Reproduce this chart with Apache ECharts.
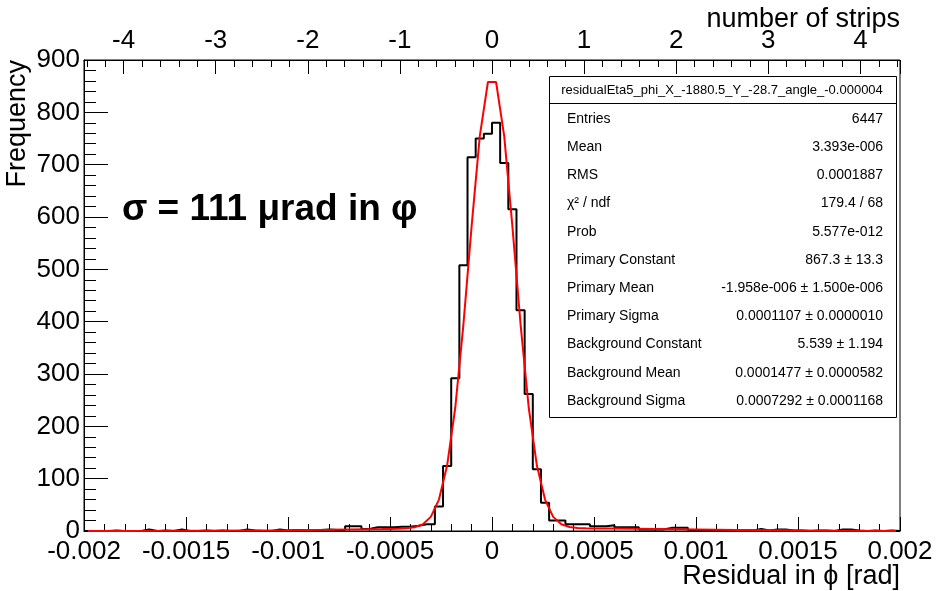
<!DOCTYPE html>
<html>
<head>
<meta charset="utf-8">
<script src="https://cdn.jsdelivr.net/npm/echarts@6/dist/echarts.min.js"></script>
<style>html,body{margin:0;padding:0;background:#fff}#main{width:943px;height:591px}</style>
</head>
<body>
<div id="main"></div>
<script>
// ---- data ----
const histMin = -0.002;
const histMax = 0.002;
const binWidth = 0.00004;
const counts = [
  0,0,0,1,0,0,0,3,0,1,
  0,3,0,0,1,0,1,0,0,3,
  1,0,0,3,1,2,2,2,2,3,
  2,2,9,9,4,7,7,7,8,8,
  10,13,13,47,124,292,508,714,750,759,
  780,703,615,422,262,118,54,20,20,13,
  13,13,9,9,11,7,7,7,3,3,
  3,6,6,6,2,2,2,2,2,1,
  2,1,4,1,3,3,1,1,0,1,
  1,0,3,3,1,0,1,0,1,0
];
const fitX = [-0.00198,-0.0018,-0.0016,-0.0014,-0.0012,-0.001,-0.0008,-0.0006,-0.00054,-0.0005,-0.00046,-0.00042,-0.00038,-0.00034,-0.0003,-0.00026,-0.00022,-0.00018,-0.00014,-0.0001,-0.00006,-0.00002,0.00002,0.00006,0.0001,0.00014,0.00018,0.00022,0.00026,0.0003,0.00034,0.00038,0.00042,0.00046,0.0005,0.0006,0.0008,0.001,0.0012,0.0014,0.0016,0.0018,0.00198];
const fitY = [0.1,0.2,0.3,0.6,1.0,1.6,2.4,3.3,3.6,3.9,4.3,5.3,7.2,12.4,27,60,125,236,395,582,754,858,858,754,582,395,236,125,60,27,12.8,7.6,5.8,5.2,4.9,4.6,3.7,2.8,1.9,1.2,0.7,0.4,0.2];
const xTickLabels = ['-0.002','-0.0015','-0.001','-0.0005','0','0.0005','0.001','0.0015','0.002'];
const yTickLabels = ['0','100','200','300','400','500','600','700','800','900'];
const stripTickLabels = ['-4','-3','-2','-1','0','1','2','3','4'];
const statsTitle = 'residualEta5_phi_X_-1880.5_Y_-28.7_angle_-0.000004';
const statNames = ['Entries','Mean','RMS','\u03C7\u00B2 / ndf','Prob','Primary Constant','Primary Mean','Primary Sigma','Background Constant','Background Mean','Background Sigma'];
const statValues = ['6447','3.393e-006','0.0001887','179.4 / 68','5.577e-012','867.3 \u00B1 13.3','-1.958e-006 \u00B1 1.500e-006','0.0001107 \u00B1 0.0000010','5.539 \u00B1 1.194','0.0001477 \u00B1 0.0000582','0.0007292 \u00B1 0.0001168'];

// ---- build ----
const FONT = '"Liberation Sans", Arial, Helvetica, sans-serif';
const histData = counts.map((c, i) => [histMin + i * binWidth, c]);
histData.push([histMax, counts[counts.length - 1]]);
const fitData = fitX.map((x, i) => [x, fitY[i]]);

const chart = echarts.init(document.getElementById('main'));
const graphics = [];
graphics.push({type:'rect', shape:{x:549.5, y:76.5, width:347, height:341}, style:{fill:'#fff', stroke:'#000', lineWidth:1}, z:100});
graphics.push({type:'line', shape:{x1:549.5, y1:103.5, x2:896.5, y2:103.5}, style:{stroke:'#000', lineWidth:1}, z:101});
graphics.push({type:'text', x:722, y:90, style:{text:statsTitle, font:'13px '+FONT, fill:'#000', align:'center', verticalAlign:'middle'}, z:102});
statNames.forEach((n, i) => {
  const y = 119 + i * 28.2;
  graphics.push({type:'text', x:567, y:y, style:{text:n, font:'14px '+FONT, fill:'#000', align:'left', verticalAlign:'middle'}, z:102});
  graphics.push({type:'text', x:883, y:y, style:{text:statValues[i], font:'14px '+FONT, fill:'#000', align:'right', verticalAlign:'middle'}, z:102});
});
graphics.push({type:'text', x:122, y:210, style:{text:'\u03C3 = 111 \u03BCrad in \u03C6', font:'bold 37px '+FONT, fill:'#000', align:'left', verticalAlign:'middle'}, z:102});
graphics.push({type:'text', x:900, y:20, style:{text:'number of strips', font:'27px '+FONT, fill:'#000', align:'right', verticalAlign:'middle'}, z:102});
graphics.push({type:'text', x:900, y:577, style:{text:'Residual in \u03D5 [rad]', font:'27px '+FONT, fill:'#000', align:'right', verticalAlign:'middle'}, z:102});
graphics.push({type:'text', x:18, y:60, rotation:Math.PI/2, style:{text:'Frequency', font:'27px '+FONT, fill:'#000', align:'right', verticalAlign:'middle'}, z:102});

const axisLineStyle = {show:true, onZero:false, lineStyle:{color:'#000', width:1}};

chart.setOption({
  animation:false,
  backgroundColor:'#fff',
  grid:{left:84, right:43, top:60, bottom:60, show:true, borderColor:'#000', borderWidth:1, backgroundColor:'transparent'},
  xAxis:[
    {
      type:'value', position:'bottom', min:histMin, max:histMax, interval:0.0005,
      axisLine:axisLineStyle, splitLine:{show:false}, minorSplitLine:{show:false},
      axisTick:{show:true, inside:true, length:14, lineStyle:{color:'#000'}},
      minorTick:{show:true, splitNumber:5, length:7, lineStyle:{color:'#000'}},
      axisLabel:{fontSize:26, fontFamily:FONT, color:'#000', margin:8,
        formatter:(v) => xTickLabels[Math.round((v - histMin) / 0.0005)] || ''}
    },
    {
      type:'value', position:'top', min:-4.43, max:4.43, splitNumber:9,
      axisLine:axisLineStyle, splitLine:{show:false}, minorSplitLine:{show:false},
      axisTick:{show:true, inside:true, length:14, lineStyle:{color:'#000'}},
      minorTick:{show:true, splitNumber:5, length:7, lineStyle:{color:'#000'}},
      axisLabel:{fontSize:26, fontFamily:FONT, color:'#000', margin:6, showMinLabel:false, showMaxLabel:false,
        formatter:(v) => { const i = Math.round(v) + 4; return (Math.abs(v - Math.round(v)) < 1e-6 && stripTickLabels[i] !== undefined) ? stripTickLabels[i] : ''; }}
    }
  ],
  yAxis:[
    {
      type:'value', position:'left', min:0, max:900, interval:100,
      axisLine:axisLineStyle, splitLine:{show:false}, minorSplitLine:{show:false},
      axisTick:{show:true, inside:true, length:24, lineStyle:{color:'#000'}},
      minorTick:{show:true, splitNumber:5, length:12, lineStyle:{color:'#000'}},
      axisLabel:{fontSize:26, fontFamily:FONT, color:'#000', margin:4,
        formatter:(v) => yTickLabels[Math.round(v / 100)] || ''}
    }
  ],
  series:[
    {type:'line', xAxisIndex:0, yAxisIndex:0, step:'end', data:histData, showSymbol:false, symbol:'none',
      lineStyle:{color:'#000', width:2}, silent:true, z:3},
    {type:'line', xAxisIndex:0, yAxisIndex:0, data:fitData, showSymbol:false, symbol:'none', smooth:false,
      lineStyle:{color:'#ff0000', width:2}, silent:true, z:4}
  ],
  graphic:graphics
});
</script>
</body>
</html>
